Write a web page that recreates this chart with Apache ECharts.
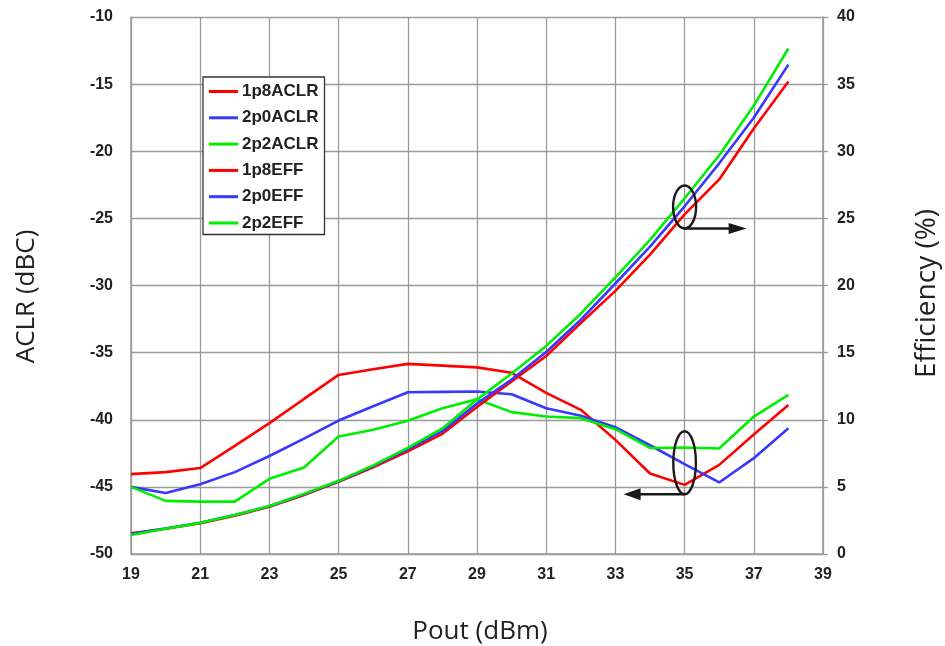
<!DOCTYPE html>
<html>
<head>
<meta charset="utf-8">
<script src="https://cdn.jsdelivr.net/npm/echarts@6/dist/echarts.min.js"></script>
<style>html,body{margin:0;padding:0;background:#fff;}#c{width:945px;height:646px;}</style>
</head>
<body>
<div id="c"></div>
<script>
// categories (Pout, dBm)
var xCats = ['19','20','21','22','23','24','25','26','27','28','29','30','31','32','33','34','35','36','37','38','39'];
// ACLR (dBc), left axis
var aclr1p8 = [-44.05,-43.9,-43.6,-41.95,-40.25,-38.45,-36.66,-36.24,-35.84,-35.97,-36.1,-36.5,-38.0,-39.26,-41.5,-44.0,-44.85,-43.36,-41.1,-38.9];
var aclr2p0 = [-45.0,-45.46,-44.8,-43.9,-42.7,-41.4,-40.06,-39.0,-37.95,-37.92,-37.9,-38.1,-39.14,-39.7,-40.55,-41.9,-43.3,-44.67,-42.86,-40.63];
var aclr2p2 = [-45.0,-46.04,-46.1,-46.1,-44.4,-43.56,-41.25,-40.75,-40.08,-39.14,-38.47,-39.43,-39.76,-39.88,-40.7,-42.1,-42.07,-42.14,-39.76,-38.15];
// Efficiency (%), right axis
var eff1p8 = [1.55,1.88,2.3,2.85,3.52,4.4,5.38,6.45,7.65,8.95,10.95,12.85,14.75,17.2,19.6,22.3,25.3,27.9,31.7,35.2];
var eff2p0 = [1.5,1.9,2.33,2.9,3.55,4.45,5.42,6.55,7.8,9.15,11.2,13.0,15.05,17.45,20.15,22.9,25.9,29.1,32.5,36.45];
var eff2p2 = [1.42,1.88,2.32,2.9,3.57,4.48,5.45,6.6,7.9,9.35,11.5,13.45,15.5,17.9,20.6,23.4,26.5,29.7,33.4,37.65];
// annotation anchors: [x category, value]
var markEff = ['35', 25.85];
var markAclr = ['35', -43.2];

var RED = '#ff0000', BLUE = '#3838ff', GREEN = '#00ee00';
var gridColor = '#9a9a9a';
var tickFont = {fontFamily: 'Liberation Sans', fontWeight: 'bold', fontSize: 16, color: '#222'};

function ser(name, data, color, yIdx) {
  return {name: name, type: 'line', data: data, yAxisIndex: yIdx, showSymbol: false, symbol: 'none',
    lineStyle: {color: color, width: 2.6}, itemStyle: {color: color}, animation: false, z: 3};
}

var chart = echarts.init(document.getElementById('c'));
chart.setOption({
  animation: false,
  backgroundColor: '#fff',
  grid: {left: 131, right: 122, top: 17, bottom: 92, containLabel: false, outerBoundsMode: 'none'},
  legend: {
    orient: 'vertical', left: 203, top: 77,
    data: ['1p8ACLR','2p0ACLR','2p2ACLR','1p8EFF','2p0EFF','2p2EFF'],
    icon: 'rect', itemWidth: 29, itemHeight: 3, itemGap: 9.3,
    padding: [6, 6, 3, 6],
    backgroundColor: '#fff', borderColor: '#333', borderWidth: 1.3, borderRadius: 0,
    textStyle: {fontFamily: 'Liberation Sans', fontWeight: 'bold', fontSize: 17, color: '#222', padding: [0,0,0,-1]}
  },
  xAxis: {
    type: 'category', data: xCats, boundaryGap: false,
    name: 'Pout (dBm)', nameLocation: 'middle', nameGap: 65,
    nameTextStyle: {fontFamily: 'Open Sans', fontSize: 26, color: '#222', padding: [0, 0, 0, 6]},
    axisLine: {lineStyle: {color: gridColor, width: 1.5}},
    axisTick: {show: false},
    axisLabel: Object.assign({interval: 1, margin: 13}, tickFont),
    splitLine: {show: true, interval: 1, lineStyle: {color: gridColor, width: 1.3}}
  },
  yAxis: [{
    type: 'value', min: -50, max: -10, interval: 5, position: 'left',
    name: 'ACLR (dBC)', nameLocation: 'middle', nameGap: 91, nameRotate: 90,
    nameTextStyle: {fontFamily: 'Open Sans', fontSize: 26, color: '#222', padding: [0, 22, 0, 0]},
    axisLine: {show: true, lineStyle: {color: gridColor, width: 1.5}},
    axisTick: {show: false},
    axisLabel: Object.assign({margin: 18}, tickFont),
    splitLine: {show: true, lineStyle: {color: gridColor, width: 1.3}}
  }, {
    type: 'value', min: 0, max: 40, interval: 5, position: 'right',
    name: 'Efficiency (%)', nameLocation: 'middle', nameGap: 90, nameRotate: 90,
    nameTextStyle: {fontFamily: 'Open Sans', fontSize: 28, color: '#222', padding: [0, 16, 0, 0]},
    axisLine: {show: true, lineStyle: {color: gridColor, width: 1.5}},
    axisTick: {show: true, inside: false, length: 5, lineStyle: {color: gridColor, width: 1.3}},
    axisLabel: Object.assign({margin: 14}, tickFont),
    splitLine: {show: false}
  }],
  series: [
    ser('1p8ACLR', aclr1p8, RED, 0),
    ser('2p0ACLR', aclr2p0, BLUE, 0),
    ser('2p2ACLR', aclr2p2, GREEN, 0),
    ser('1p8EFF', eff1p8, RED, 1),
    ser('2p0EFF', eff2p0, BLUE, 1),
    ser('2p2EFF', eff2p2, GREEN, 1)
  ]
});

// annotation ellipses and arrows, anchored to axis values
var pU = chart.convertToPixel({xAxisIndex: 0, yAxisIndex: 1}, markEff);
var pL = chart.convertToPixel({xAxisIndex: 0, yAxisIndex: 0}, markAclr);
var blk = {stroke: '#1a1a1a', lineWidth: 2.4, fill: 'none'};
var ryU = 21.5, ryL = 31.5;
chart.setOption({
  graphic: [
    {type: 'ellipse', shape: {cx: pU[0], cy: pU[1], rx: 11.5, ry: ryU}, style: blk, z: 10},
    {type: 'line', shape: {x1: pU[0], y1: pU[1] + ryU, x2: pU[0] + 46, y2: pU[1] + ryU}, style: {stroke: '#1a1a1a', lineWidth: 2.4}, z: 10},
    {type: 'polygon', shape: {points: [[pU[0] + 62, pU[1] + ryU], [pU[0] + 44, pU[1] + ryU - 5.5], [pU[0] + 44, pU[1] + ryU + 5.5]]}, style: {fill: '#1a1a1a'}, z: 10},
    {type: 'ellipse', shape: {cx: pL[0], cy: pL[1], rx: 11.3, ry: ryL}, style: blk, z: 10},
    {type: 'line', shape: {x1: pL[0], y1: pL[1] + ryL, x2: pL[0] - 45, y2: pL[1] + ryL}, style: {stroke: '#1a1a1a', lineWidth: 2.4}, z: 10},
    {type: 'polygon', shape: {points: [[pL[0] - 61, pL[1] + ryL], [pL[0] - 44, pL[1] + ryL - 6], [pL[0] - 44, pL[1] + ryL + 6]]}, style: {fill: '#1a1a1a'}, z: 10}
  ]
});
</script>
</body>
</html>
